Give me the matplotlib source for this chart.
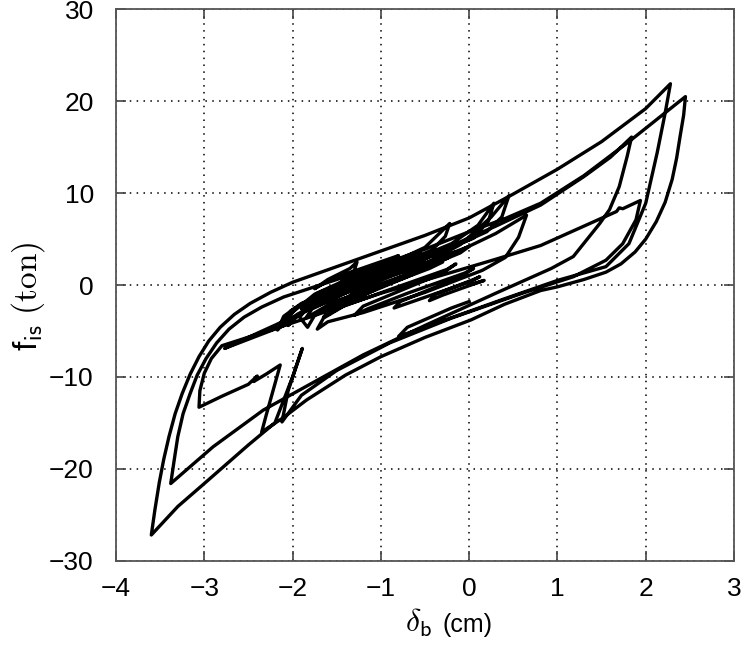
import numpy as np
import matplotlib
matplotlib.use('Agg')
import matplotlib.pyplot as plt

plt.rcParams['font.family'] = ['Liberation Sans', 'DejaVu Sans']
plt.rcParams['mathtext.fontset'] = 'cm'

# path of the isolator response as (delta_b, f_is) vertices
cluster = [
    (0.00, 0.0), (0.17, 0.5), (0.05, 0.1), (-0.30, -1.1), (-0.45, -1.7), (-0.38, -1.0), (0.05, 0.6), (0.12, 0.9), (0.02, 0.4),
    (-0.55, -1.5), (-0.85, -2.5), (-0.78, -1.8), (-0.35, -0.1), (-0.05, 1.2), (0.05, 1.8), (-0.05, 1.3),
    (-0.70, -0.9), (-1.15, -2.6), (-1.30, -3.3), (-1.20, -2.3), (-0.75, -0.5), (-0.30, 1.3), (-0.15, 2.3), (-0.25, 1.7),
    (-0.90, -0.5), (-1.45, -2.4), (-1.65, -3.5), (-1.55, -2.5), (-1.15, -0.9), (-0.70, 0.9), (-0.40, 2.2), (-0.30, 2.9), (-0.42, 2.2),
    (-1.00, 0.0), (-1.55, -1.9), (-1.85, -3.6), (-1.78, -2.6), (-1.45, -1.1), (-1.00, 0.8), (-0.55, 2.5), (-0.45, 3.2), (-0.60, 2.5),
    (-1.15, 0.4), (-1.65, -1.4), (-1.95, -3.4), (-2.05, -4.4), (-1.95, -3.2), (-1.60, -1.4), (-1.27, 0.2), (-1.20, 0.9),
    (-1.35, 0.3), (-1.80, -1.6), (-1.90, -2.6), (-1.70, -1.3), (-1.45, 0.3), (-1.30, 1.6), (-1.27, 2.5), (-1.35, 1.8),
    (-1.60, 0.6), (-1.75, -0.4), (-1.55, 0.7), (-1.10, 2.2), (-0.80, 3.2), (-0.90, 2.6), (-1.30, 1.0), (-1.50, 0.1),
    (-1.75, -1.0), (-1.98, -2.8), (-2.10, -3.9), (-2.02, -2.8), (-1.70, -1.0), (-1.20, 1.0), (-0.80, 2.5), (-0.55, 3.5), (-0.65, 2.8),
    (-1.10, 1.0), (-1.60, -0.9), (-1.85, -2.0), (-1.72, -0.9), (-1.30, 0.8), (-0.85, 2.4), (-0.70, 2.9), (-0.95, 1.9), (-1.40, 0.0),
    (-1.65, -1.2), (-1.50, -0.3), (-1.00, 1.6), (-0.60, 3.0), (-0.35, 3.8), (-0.50, 3.0), (-1.05, 0.9), (-1.45, -0.6), (-1.30, 0.2),
    (-0.90, 1.6), (-0.50, 2.4), (-0.15, 3.6), (-0.25, 2.9), (-0.70, 1.2), (-1.25, -0.8), (-1.60, -2.2), (-1.50, -1.2), (-1.05, 0.5),
    (-0.60, 1.9), (-0.30, 2.5), (-0.45, 1.8), (-1.00, -0.2), (-1.40, -1.6), (-1.30, -0.7), (-0.85, 1.1), (-0.35, 2.9), (0.00, 4.2),
    (-0.10, 3.5), (-0.60, 1.5), (-1.10, -0.4), (-1.40, 0.6),
]
medium = [
    (-0.90, 2.3), (-0.50, 4.1), (-0.22, 6.7),
    (-0.27, 5.3), (-0.42, 3.8), (-0.95, 1.7), (-1.50, -0.5), (-1.95, -2.4), (-2.17, -4.9),
    (-2.10, -3.4), (-1.90, -2.0), (-1.40, -0.1), (-0.80, 2.1), (-0.20, 4.5), (0.10, 6.5), (0.28, 8.9),
    (0.22, 7.0), (0.05, 5.1), (-0.50, 2.9), (-1.20, 0.2), (-1.80, -2.1), (-1.92, -3.5), (-1.83, -4.6),
    (-1.75, -3.3), (-1.40, -1.6), (-0.80, 0.7), (-0.20, 3.3), (0.30, 5.6), (0.65, 7.6),
    (0.56, 5.2), (0.41, 3.0), (0.15, 1.6), (-0.50, -0.8), (-1.20, -3.0), (-1.60, -4.0), (-1.72, -4.8),
    (-1.65, -3.6), (-1.30, -1.6), (-0.70, 1.2), (-0.10, 4.4), (0.25, 7.4), (0.45, 9.7),
    (0.37, 7.4), (0.20, 5.8), (-0.40, 3.2), (-1.10, 0.6), (-1.60, -1.3), (-2.12, -4.5), (-2.77, -6.9),
]
loop_c = [
    (-2.48, -5.6), (-1.50, -1.3), (-0.50, 3.0), (0.30, 6.4), (0.81, 8.7), (1.30, 11.8), (1.60, 13.9), (1.84, 16.1),
    (1.79, 14.0), (1.70, 10.7), (1.59, 8.2), (1.48, 6.7), (1.18, 3.1), (0.93, 1.8), (0.30, -0.9), (-0.50, -4.4),
    (-1.20, -7.6), (-1.69, -10.2), (-2.33, -13.6), (-2.90, -17.6), (-3.38, -21.6),
]
loop_b = [
    (-3.34, -19.0), (-3.30, -16.5), (-3.24, -14.0), (-3.16, -11.8), (-3.08, -9.8), (-2.98, -8.0), (-2.86, -6.3),
    (-2.72, -4.8), (-2.55, -3.5), (-2.35, -2.4), (-2.10, -1.3),
    (-1.50, 0.6), (-1.00, 2.2), (-0.50, 3.9), (0.00, 5.8), (0.40, 7.2), (0.81, 8.9), (1.30, 11.9), (1.81, 15.6),
    (2.15, 18.2), (2.45, 20.5),
    (2.43, 18.5), (2.39, 16.2), (2.35, 13.8), (2.30, 11.5), (2.22, 9.0), (2.12, 6.9), (2.00, 5.0), (1.88, 3.6),
    (1.72, 2.3), (1.55, 1.4), (1.30, 0.6), (1.00, -0.2), (0.81, -0.6), (0.40, -2.1), (0.02, -3.8), (-0.50, -5.7),
    (-1.00, -7.8), (-1.40, -9.8), (-1.84, -12.5), (-2.10, -14.4), (-2.35, -16.0),
]
loop_d = [
    (-2.30, -14.2), (-2.14, -8.7), (-2.30, -9.7), (-2.44, -10.5), (-2.40, -9.9), (-2.50, -10.8), (-2.80, -12.1),
    (-3.06, -13.3),
    (-3.05, -11.5), (-3.00, -9.6), (-2.92, -8.0), (-2.80, -6.6), (-2.12, -4.5), (-1.00, -0.9), (0.30, 2.8),
    (0.81, 4.3), (1.67, 8.0), (1.70, 8.4), (1.74, 8.3), (1.94, 9.2),
    (1.89, 7.1), (1.74, 4.5), (1.55, 2.7), (1.18, 0.9), (0.60, -0.9), (-0.20, -3.6), (-0.90, -6.3),
    (-1.50, -9.3), (-1.90, -12.0), (-2.12, -14.9), (-2.05, -11.5), (-1.89, -6.9), (-2.00, -10.0),
    (-2.20, -15.0), (-2.50, -17.4), (-3.00, -21.6), (-3.30, -24.1), (-3.60, -27.2),
]
loop_a = [
    (-3.56, -24.5), (-3.51, -21.5), (-3.46, -19.0), (-3.40, -16.5), (-3.33, -14.0), (-3.25, -11.8), (-3.16, -9.7),
    (-3.06, -7.8), (-2.95, -6.1), (-2.82, -4.6), (-2.66, -3.2), (-2.48, -2.0), (-2.25, -0.8), (-2.00, 0.3),
    (-1.50, 2.0), (-1.00, 3.7), (-0.50, 5.4), (0.00, 7.3), (0.50, 9.9),
    (1.00, 12.6), (1.50, 15.6), (2.00, 19.2), (2.28, 21.9),
    (2.22, 18.7), (2.13, 14.4), (2.00, 8.9), (1.81, 4.5), (1.55, 2.0), (1.00, 0.5), (0.40, -1.5),
    (-0.30, -3.9), (-0.80, -5.6), (-0.70, -4.6), (-0.20, -2.5), (0.00, -1.8),
]

path = np.array(cluster + medium + loop_c + loop_b + loop_d + loop_a)

fig = plt.figure(figsize=(7.46, 6.52), dpi=100)
ax = fig.add_axes([0.1555, 0.140, 0.8284, 0.8457])
ax.plot(path[:, 0], path[:, 1], color='black', lw=2.4, solid_joinstyle='round')

ax.set_xlim(-4, 3)
ax.set_ylim(-30, 30)
ax.set_xticks(np.arange(-4, 4, 1))
ax.set_yticks(np.arange(-30, 31, 10))
ax.grid(True, color='black', linestyle=(0, (1, 3.5)), linewidth=1.1)
ax.tick_params(direction='in', length=7, width=1.2, top=True, right=True,
               labelsize=19, color='#444444')
ax.tick_params(axis='x', pad=12)
ax.tick_params(axis='y', pad=16)
for s in ax.spines.values():
    s.set_color('#555555')
    s.set_linewidth(1.3)

# x label: larger delta symbol, smaller sans unit
fig.text(0.543, 0.031, r'$\delta_{\mathsf{b}}$', fontsize=23, ha='left', va='baseline')
fig.text(0.5925, 0.031, '(cm)', fontsize=18, ha='left', va='baseline')
ax.set_ylabel(r'f$_{\mathsf{is}}$ $\mathrm{(ton)}$', fontsize=24)
ax.yaxis.set_label_coords(-0.112, 0.48)

fig.savefig('out.png', dpi=100)
